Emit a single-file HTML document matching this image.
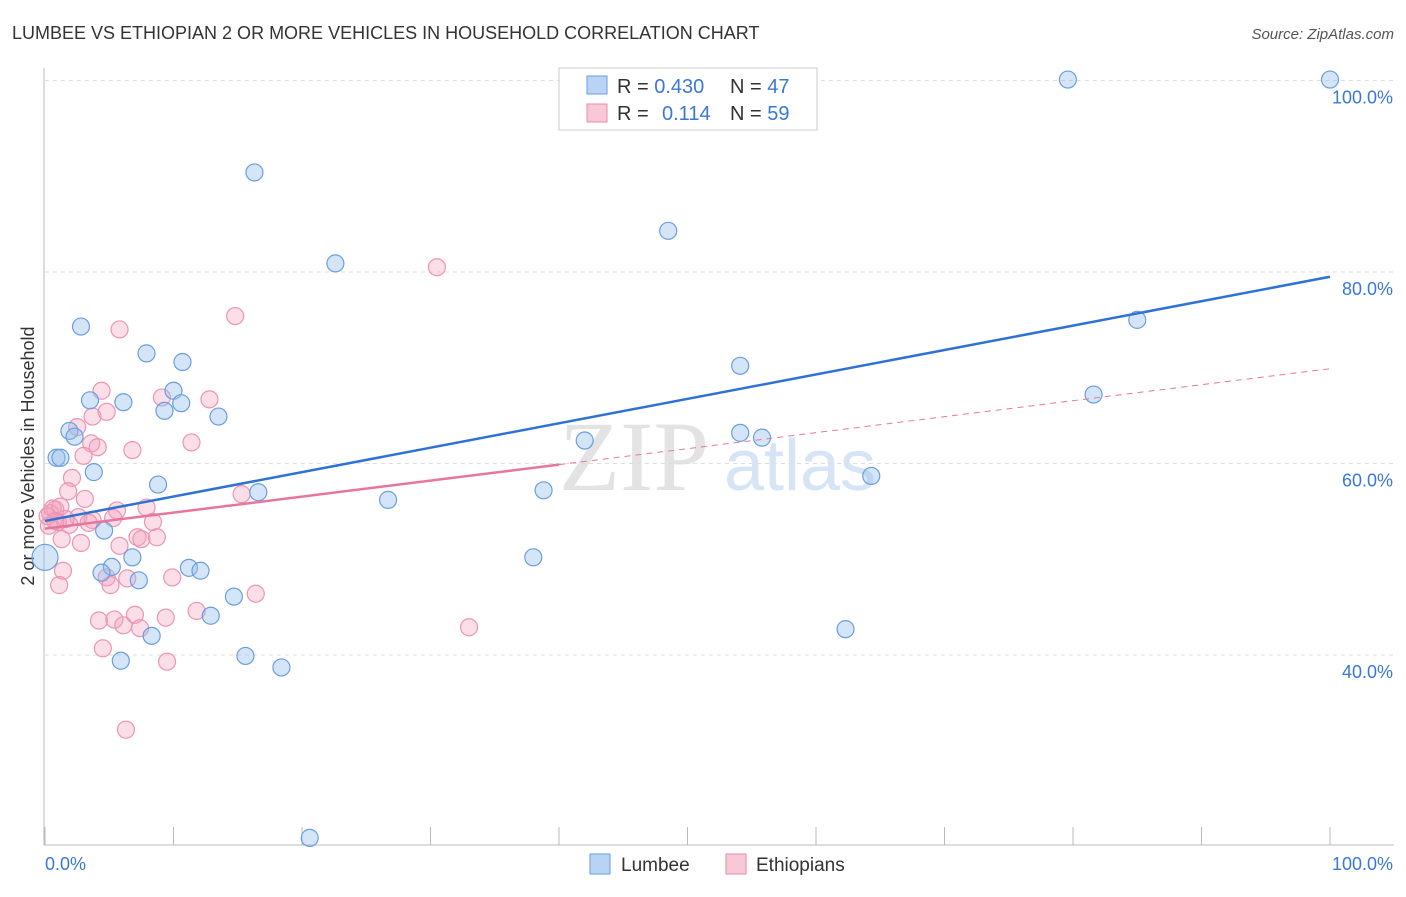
<!DOCTYPE html>
<html><head><meta charset="utf-8"><style>
body{margin:0;background:#fff;font-family:"Liberation Sans",sans-serif}
</style></head><body>
<svg id="c" width="1406" height="892" xmlns="http://www.w3.org/2000/svg">
<text x="12" y="39" font-size="18" fill="#333">LUMBEE VS ETHIOPIAN 2 OR MORE VEHICLES IN HOUSEHOLD CORRELATION CHART</text>
<text x="1394" y="39" font-size="15" fill="#555" text-anchor="end" font-style="italic">Source: ZipAtlas.com</text>
<text x="634" y="490" font-size="100" fill="#e3e3e3" font-family="Liberation Serif" text-anchor="middle">ZIP</text>
<text x="800" y="490" font-size="72" fill="#d6e4f5" text-anchor="middle">atlas</text>
<text transform="translate(34,456) rotate(-90)" font-size="18" fill="#333" text-anchor="middle">2 or more Vehicles in Household</text>
<g id="grid"></g><g id="pts"></g><g id="lines"></g>
<g>
<rect x="559" y="68" width="258" height="62" fill="#fff" stroke="#ccc"/>
<rect x="587" y="76" width="20" height="18" fill="#b8d3f3" stroke="#6a9ee0"/>
<rect x="587" y="104" width="20" height="18" fill="#f9c8d6" stroke="#e88aa8"/>
<text x="617" y="93" font-size="20" fill="#333">R = <tspan fill="#3a78d6">0.430</tspan><tspan x="730">N = </tspan><tspan fill="#3a78d6">47</tspan></text>
<text x="617" y="120" font-size="20" fill="#333">R = <tspan fill="#3a78d6" x="662">0.114</tspan><tspan x="730">N = </tspan><tspan fill="#3a78d6">59</tspan></text>
</g>
<g>
<rect x="590" y="854" width="20" height="20" fill="#b8d3f3" stroke="#6a9ee0"/>
<text x="621" y="871" font-size="19" fill="#333">Lumbee</text>
<rect x="726" y="854" width="20" height="20" fill="#f9c8d6" stroke="#e88aa8"/>
<text x="756" y="871" font-size="19" fill="#333">Ethiopians</text>
</g>
<text x="45" y="870" font-size="18" fill="#3a78d6">0.0%</text>
<text x="1393" y="870" font-size="18" fill="#3a78d6" text-anchor="end">100.0%</text>
</svg>
<script>
const yTicks=[100,80,60,40];
const yTickLabels=["100.0%","80.0%","60.0%","40.0%"];
const lumbeeX=[79.6,100,16.3,22.6,48.5,2.8,7.9,10.7,54.1,85.0,81.6,3.5,6.1,10.0,10.6,9.3,13.5,1.9,2.3,0.9,1.2,3.8,42.0,54.1,55.8,64.3,8.8,16.6,26.7,38.8,4.6,6.8,38.0,0,5.2,4.4,7.3,11.2,12.1,14.7,12.9,8.3,62.3,15.6,5.9,18.4,20.6];
const lumbeeY=[100.1,100.1,90.4,80.9,84.3,74.3,71.5,70.6,70.2,75.0,67.2,66.6,66.4,67.6,66.3,65.5,64.9,63.4,62.8,60.6,60.6,59.1,62.4,63.2,62.7,58.7,57.8,57.0,56.2,57.2,53.0,50.2,50.2,50.2,49.2,48.6,47.8,49.1,48.8,46.1,44.1,42.0,42.7,39.9,39.4,38.7,20.9];
const ethX=[14.8,5.8,4.4,3.7,4.8,2.5,9.1,12.8,3.6,4.1,3.0,6.8,11.4,2.1,1.8,3.1,0.8,0.4,5.6,7.9,15.3,2.6,3.7,1.9,5.3,8.4,1.3,2.8,5.8,7.2,7.5,8.7,1.4,1.1,4.8,5.1,6.4,9.9,16.4,4.2,5.4,6.1,7.0,7.4,9.4,11.8,4.5,9.5,6.3,30.5,33.0,0.2,0.6,1.0,1.6,3.4,0.3,1.2,0.8];
const ethY=[75.4,74.0,67.6,64.9,65.4,63.8,66.9,66.7,62.1,61.7,60.8,61.4,62.2,58.5,57.1,56.3,55.2,54.8,55.1,55.4,56.8,54.4,54.1,53.6,54.3,53.9,52.1,51.7,51.4,52.3,52.1,52.3,48.8,47.3,48.1,47.3,48.0,48.1,46.4,43.6,43.7,43.1,44.2,42.8,43.9,44.6,40.7,39.3,32.2,80.5,42.9,54.5,55.3,53.9,54.2,53.8,53.5,55.5,54.0];
const lumbeeTrend=[54.0,79.5];
const ethTrend=[53.2,69.9];
const ethSolidEnd=40;
const NS="http://www.w3.org/2000/svg";
const sx=v=>45+v*12.85, sy=v=>1038-v*9.575;
function mk(t,a,p){const e=document.createElementNS(NS,t);for(const k in a)e.setAttribute(k,a[k]);p.appendChild(e);return e;}
const grid=document.getElementById('grid');
yTicks.forEach((t,i)=>{
 const l=mk('line',{x1:45,x2:1394,y1:sy(t),y2:sy(t),stroke:'#ddd','stroke-dasharray':'4,4'},grid);
 
 
 const tx=mk('text',{x:1393,y:sy(t)+23,'font-size':18,fill:'#3a78d6','text-anchor':'end'},grid);
 tx.textContent=yTickLabels[i];
 
 
});
const ax=mk('line',{x1:44,x2:44,y1:68,y2:845,stroke:'#bbb'},grid);


const bx=mk('line',{x1:44,x2:1394,y1:845,y2:845,stroke:'#bbb'},grid);


for(let i=0;i<=10;i++){
 const tk=mk('line',{x1:sx(i*10),x2:sx(i*10),y1:827,y2:845,stroke:'#bbb'},grid);
 
 
}
const pts=document.getElementById('pts');
ethX.forEach((x,i)=>{
 const c=mk('circle',{cx:sx(x),cy:sy(ethY[i]),r:8.5,fill:'rgba(244,160,188,0.35)',stroke:'#ec95b1','stroke-width':1.2},pts);
 
 
});
lumbeeX.forEach((x,i)=>{
 const c=mk('circle',{cx:sx(x),cy:sy(lumbeeY[i]),r:x===0?13:8.5,fill:'rgba(150,190,238,0.4)',stroke:'#6a9ee0','stroke-width':1.2},pts);
 
 
});
const ln=document.getElementById('lines');
const ey=x=>ethTrend[0]+(ethTrend[1]-ethTrend[0])*x/100;
const d1=mk('line',{x1:sx(ethSolidEnd),y1:sy(ey(ethSolidEnd)),x2:sx(100),y2:sy(ethTrend[1]),stroke:'#e8769c','stroke-width':1,'stroke-dasharray':'6,5'},ln);


const d2=mk('line',{x1:sx(0),y1:sy(ethTrend[0]),x2:sx(ethSolidEnd),y2:sy(ey(ethSolidEnd)),stroke:'#e8769c','stroke-width':2.5},ln);


const d3=mk('line',{x1:sx(0),y1:sy(lumbeeTrend[0]),x2:sx(100),y2:sy(lumbeeTrend[1]),stroke:'#2f72d6','stroke-width':2.5},ln);


</script>
</body></html>
